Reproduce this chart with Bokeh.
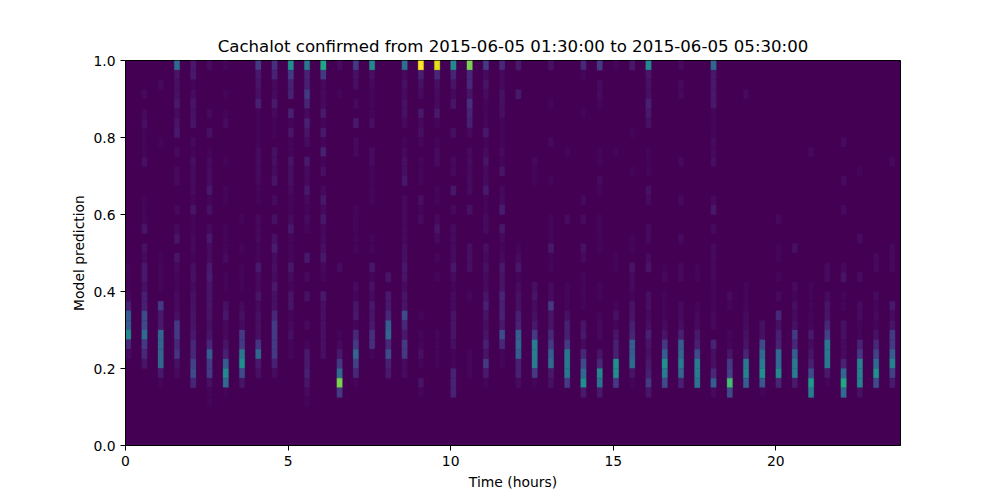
import numpy as np
from bokeh.plotting import figure
from bokeh.models import LinearColorMapper, FixedTicker, PrintfTickFormatter, Range1d, ColumnDataSource
from bokeh.palettes import Viridis256
from bokeh.transform import transform
from bokeh.embed import file_html
from bokeh.resources import INLINE

title_text = "Cachalot confirmed from 2015-06-05 01:30:00 to 2015-06-05 05:30:00"
x_label = "Time (hours)"
y_label = "Model prediction"
x_ticks = [0, 5, 10, 15, 20]
y_ticks = [0.0, 0.2, 0.4, 0.6, 0.8, 1.0]
hours_max = 143 / 6
bin_hours = 1 / 6
n_bins_y = 40

# Each list: one half-hour time slot, share of detections per prediction bin
# (percent of the maximum), listed from the top bin (0.975-1.0) downwards.
col00 = [0,0,0,0,0,0,0,0,0,0, 0,0,0,0,0,0,0,0,0,0, 0,3,2,2,4,12,30,30,47,15, 5,0,0,0,0,0,0,0,0,0]
col01 = [0,0,0,4,0,4,6,3,3,3, 6,0,0,0,3,3,3,8,0,7, 4,10,10,7,12,12,25,25,35,20, 15,8,0,0,0,0,0,0,0,0]
col02 = [0,0,4,0,0,0,0,0,3,0, 0,0,0,0,0,0,0,0,0,0, 2,3,3,3,0,20,10,10,33,33, 33,33,10,2,0,0,0,0,0,0]
col03 = [35,8,7,7,10,5,8,10,0,5, 0,4,4,0,0,4,0,4,8,0, 8,4,3,3,5,5,6,20,20,15, 18,7,4,0,0,0,0,0,0,0]
col04 = [10,10,3,5,8,7,8,0,4,2, 6,5,5,5,3,8,3,3,4,4, 3,6,7,5,7,7,8,8,10,15, 15,22,25,14,0,0,0,0,0,0]
col05 = [5,0,0,0,0,4,0,7,0,3, 5,5,5,9,3,7,0,4,10,5, 5,10,11,8,8,8,8,7,8,15, 30,20,20,6,2,2,0,0,0,0]
col06 = [3,0,0,3,0,3,5,0,0,0, 3,0,0,3,3,0,0,3,3,3, 5,0,2,2,0,7,10,4,4,8, 12,30,48,35,2,0,0,0,0,0]
col07 = [0,0,0,0,0,0,0,0,0,0, 0,0,0,0,0,0,3,0,0,3, 0,3,3,2,0,4,7,5,20,20, 40,50,25,8,0,0,0,0,0,0]
col08 = [20,10,8,6,12,3,3,3,2,5, 5,5,4,3,3,0,4,4,4,3, 3,10,5,4,8,4,6,6,6,18, 33,10,6,0,0,0,0,0,0,0]
col09 = [17,13,4,5,10,4,3,3,0,7, 6,5,8,0,5,0,7,0,7,11, 5,6,5,10,7,7,15,20,20,20, 20,12,5,0,0,0,0,0,0,0]
col10 = [50,20,12,12,0,12,3,8,3,3, 8,6,6,4,3,2,5,9,3,3, 3,9,5,3,8,8,2,4,6,3, 3,0,0,0,0,0,0,0,0,0]
col11 = [40,13,12,20,14,4,12,8,5,0, 10,5,4,9,4,3,5,3,0,0, 9,0,4,0,7,0,0,4,0,3, 10,10,12,8,4,3,0,0,0,0]
col12 = [60,20,4,4,4,10,2,10,3,12, 3,6,0,4,9,4,9,4,5,6, 9,4,3,0,10,6,6,6,6,6, 6,0,0,0,0,0,0,0,0,0]
col13 = [5,0,0,3,0,0,0,0,0,0, 0,0,0,0,0,0,0,0,0,0, 0,5,0,0,0,0,0,0,3,4, 10,20,35,80,20,0,0,0,0,0]
col14 = [20,7,6,0,4,0,10,0,4,4, 0,0,0,0,0,3,3,3,3,3, 0,0,0,5,3,8,10,3,15,20, 33,22,15,2,0,0,0,0,0,0]
col15 = [47,6,4,3,3,3,6,0,0,5, 5,3,3,3,3,0,0,0,3,3, 0,9,3,7,5,10,8,10,17,17, 3,0,0,0,0,0,0,0,0,0]
col16 = [0,0,0,0,0,0,0,0,0,0, 0,0,0,0,0,0,0,0,0,0, 0,0,8,0,10,10,15,30,33,15, 25,12,10,0,0,0,0,0,0,0]
col17 = [37,4,7,5,7,7,4,0,3,4, 6,6,9,0,4,4,4,4,4,6, 6,9,8,5,8,8,25,15,10,20, 20,5,5,0,0,0,0,0,0,0]
col18 = [100,12,7,5,0,10,4,6,3,0, 3,3,3,0,6,3,5,0,0,0, 0,0,0,0,0,0,3,0,3,3, 6,3,0,8,3,0,0,0,0,0]
col19 = [95,15,6,5,4,10,3,0,3,5, 5,0,0,3,3,0,4,8,4,0, 3,0,3,0,0,0,0,0,2,2, 2,2,0,0,0,0,0,0,0,0]
col20 = [47,14,8,4,8,0,0,6,0,0, 4,4,0,9,0,4,0,5,5,5, 5,9,5,3,5,5,8,8,8,6, 3,3,13,13,13,0,0,0,0,0]
col21 = [80,15,15,8,17,14,12,4,0,4, 5,4,5,5,0,7,0,0,0,6, 6,6,0,0,3,0,0,0,0,0, 3,3,3,0,0,0,0,0,0,0]
col22 = [20,5,8,5,3,3,3,9,3,5, 8,4,5,10,3,3,5,5,0,6, 4,7,5,4,8,12,8,6,8,12, 8,20,10,3,0,0,0,0,0,0]
col23 = [15,4,4,7,6,6,3,3,3,5, 3,8,0,4,5,11,0,9,4,3, 4,10,8,8,14,12,13,10,25,15, 3,3,0,0,0,0,0,0,0,0]
col24 = [10,0,0,10,0,0,0,0,0,0, 0,0,0,0,0,0,0,0,0,3, 5,9,2,5,7,7,12,13,30,33, 30,12,12,5,0,0,0,0,0,0]
col25 = [0,0,0,0,0,0,0,0,0,0, 4,3,3,0,0,0,0,0,0,0, 0,0,0,6,8,5,7,10,20,42, 42,42,20,2,0,0,0,0,0,0]
col26 = [7,0,0,0,3,0,0,0,4,0, 0,0,2,0,0,0,3,3,3,9, 3,3,0,5,5,20,8,8,15,20, 30,35,10,7,0,0,0,0,0,0]
col27 = [0,0,0,0,0,0,0,0,0,3, 0,0,0,0,0,0,5,0,0,0, 0,0,0,3,3,3,7,12,12,20, 40,40,40,20,0,0,0,0,0,0]
col28 = [15,3,0,0,0,3,0,0,0,0, 0,0,0,0,5,0,5,0,0,7, 4,0,3,3,3,3,0,8,10,4, 15,25,35,50,10,0,0,0,0,0]
col29 = [20,0,5,5,3,0,0,0,0,3, 3,0,5,3,0,0,3,3,3,3, 0,0,0,3,2,0,3,4,4,0, 8,15,48,38,10,0,0,0,0,0]
col30 = [3,0,0,0,0,0,0,0,0,3, 0,0,0,0,0,0,0,0,0,0, 3,3,0,0,0,3,7,3,8,12, 12,50,50,20,0,0,0,0,0,0]
col31 = [10,0,0,0,0,0,0,3,0,0, 0,3,0,0,0,0,0,0,3,3, 0,8,5,5,3,8,8,12,14,30, 30,35,8,2,0,0,0,0,0,0]
col32 = [48,8,7,6,12,10,7,0,0,3, 3,3,0,7,5,0,0,5,5,0, 5,8,0,0,6,6,5,6,12,8, 7,10,12,20,8,0,0,0,0,0]
col33 = [0,0,0,0,0,0,0,0,0,0, 0,0,0,0,0,0,0,0,0,0, 0,2,4,0,3,3,3,5,8,20, 30,50,42,25,0,0,0,0,0,0]
col34 = [4,0,4,4,0,0,0,0,0,0, 4,0,0,0,4,0,0,0,5,0, 0,4,4,0,0,5,5,6,12,30, 33,42,33,12,0,0,0,0,0,0]
col35 = [0,0,0,0,0,0,0,0,0,0, 0,0,0,0,0,0,0,0,0,0, 0,2,3,0,0,3,4,5,10,12, 25,42,42,38,0,0,0,0,0,0]
col36 = [33,10,10,10,10,3,3,3,5,4, 6,0,0,0,4,9,0,5,0,5, 4,4,4,3,3,3,4,4,0,13, 6,6,15,30,4,0,0,0,0,0]
col37 = [0,0,0,0,0,0,0,0,0,0, 0,0,0,0,0,0,0,0,0,0, 0,0,0,0,5,3,0,0,3,3, 8,20,22,70,25,0,0,0,0,0]
col38 = [0,0,0,4,0,0,0,0,0,0, 0,0,0,0,0,0,0,0,0,0, 0,0,0,3,3,3,5,5,7,8, 14,40,45,30,0,0,0,0,0,0]
col39 = [0,0,0,0,0,0,0,0,0,0, 0,0,0,0,0,0,0,0,0,0, 0,0,0,0,0,0,0,7,7,25, 35,42,50,28,2,0,0,0,0,0]
col40 = [0,0,0,0,0,0,0,0,0,0, 0,0,0,0,0,0,4,0,0,3, 3,0,3,0,4,0,15,7,12,13, 35,35,47,14,0,0,0,0,0,0]
col41 = [0,0,0,0,0,0,0,0,0,0, 0,0,0,0,0,0,0,0,0,6, 0,0,0,5,3,6,5,7,20,15, 30,40,42,10,0,0,0,0,0,0]
col42 = [0,0,0,0,0,0,0,0,0,4, 0,0,0,0,0,0,0,0,0,0, 0,0,0,2,2,2,3,3,10,5, 8,12,25,55,42,0,0,0,0,0]
col43 = [0,0,0,0,0,0,0,0,0,0, 0,0,0,0,0,0,0,0,0,0, 0,5,5,0,5,8,8,15,22,40, 40,40,10,2,0,0,0,0,0,0]
col44 = [0,0,0,0,0,0,0,0,5,0, 0,0,5,0,0,5,0,0,0,0, 0,4,8,0,3,3,0,7,7,5, 5,13,33,60,35,0,0,0,0,0]
col45 = [0,0,0,0,0,0,0,0,0,0, 0,3,0,0,0,0,0,0,5,0, 0,0,5,0,0,5,5,3,2,13, 20,45,45,45,7,0,0,0,0,0]
col46 = [0,0,0,0,0,0,0,0,0,0, 0,0,0,0,0,0,0,0,0,0, 4,4,0,0,5,3,4,3,7,15, 22,35,50,25,0,0,0,0,0,0]
col47 = [0,0,0,0,0,0,0,0,0,0, 4,0,0,0,0,0,0,0,0,4, 4,4,0,0,0,10,5,8,20,20, 30,45,22,10,0,0,0,0,0,0]

columns = [globals()[f"col{i:02d}"] for i in range(48)]
for c in columns:
    assert len(c) == n_bins_y

left, right, bottom, top, val = [], [], [], [], []
for i, c in enumerate(columns):
    for r, v in enumerate(c):
        if v > 0:
            left.append(i * 3 * bin_hours)
            right.append((i * 3 + 1) * bin_hours)
            top.append(1 - r / n_bins_y)
            bottom.append(1 - (r + 1) / n_bins_y)
            val.append(v)
source = ColumnDataSource(dict(left=left, right=right, top=top, bottom=bottom, val=val))

# Viridis, calibrated so that the faint cells stay as dark as in the reference.
def shade(x):
    return x * (0.55 + 0.45 * x / 0.3) if x < 0.3 else x
palette = [Viridis256[int(round(255 * shade(i / 255)))] for i in range(256)]
mapper = LinearColorMapper(palette=palette, low=0, high=100)

LEFT, TOP = 125, 60
FW, FH = 775, 385
W, H = 1000, 500
p = figure(width=W, height=H, output_backend="svg", toolbar_location=None,
           x_range=Range1d(0, hours_max), y_range=Range1d(0, 1),
           min_border_left=LEFT, min_border_top=TOP,
           min_border_right=W - LEFT - FW, min_border_bottom=H - TOP - FH,
           frame_width=FW, frame_height=FH,
           title=title_text, x_axis_label=x_label, y_axis_label=y_label)
p.quad(left="left", right="right", bottom="bottom", top="top", source=source,
       fill_color=transform("val", mapper), line_color=transform("val", mapper), line_width=0.3)

p.grid.visible = False
p.background_fill_color = "#440154"
p.outline_line_color = "black"
p.outline_line_width = 1
p.title.align = "center"
p.title.text_font = "DejaVu Sans"
p.title.text_font_size = "16.6px"
p.title.text_font_style = "normal"
p.title.text_color = "black"

for ax, ticks in ((p.xaxis[0], x_ticks), (p.yaxis[0], y_ticks)):
    ax.ticker = FixedTicker(ticks=ticks)
    ax.minor_tick_line_color = None
    ax.major_tick_in = 0
    ax.major_tick_out = 5
    ax.major_tick_line_width = 1
    ax.major_tick_line_color = "black"
    ax.axis_line_color = "black"
    ax.major_label_text_font = "DejaVu Sans"
    ax.major_label_text_font_size = "13.9px"
    ax.major_label_text_color = "black"
    ax.axis_label_text_font = "DejaVu Sans"
    ax.axis_label_text_font_size = "13.9px"
    ax.axis_label_text_font_style = "normal"
    ax.axis_label_text_color = "black"
p.yaxis[0].formatter = PrintfTickFormatter(format="%.1f")
p.yaxis[0].axis_label_standoff = 3

open("out.html", "w").write(file_html(p, INLINE))
